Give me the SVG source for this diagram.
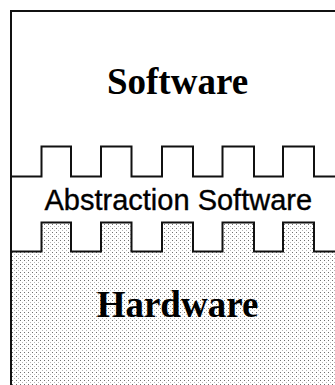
<svg xmlns="http://www.w3.org/2000/svg" width="335" height="385" viewBox="0 0 335 385">
  <defs>
    <pattern id="stipple" x="0" y="0" width="4" height="4" patternUnits="userSpaceOnUse">
      <rect x="0" y="0" width="1" height="1" fill="#707070"/>
      <rect x="2" y="2" width="1" height="1" fill="#b8b8b8"/>
    </pattern>
    <style>
      .edge { fill: none; stroke: #111; stroke-width: 2; stroke-linejoin: miter; }
      .serif { font-family: "Liberation Serif", "Times New Roman", serif; font-weight: bold; fill: #000; text-anchor: middle; }
      .sans { font-family: "Liberation Sans", Arial, sans-serif; fill: #000; stroke: #000; stroke-width: 0.35; text-anchor: middle; }
    </style>
  </defs>
  <rect x="0" y="0" width="335" height="385" fill="#fff"/>

  <g id="software">
    <path d="M11,11 H335 V176.5 H314 V146.5 H283 V176.5 H254 V146.5 H222.5 V176.5 H193 V146.5 H162 V176.5 H131.5 V146.5 H101 V176.5 H71 V146.5 H41.5 V176.5 H11 Z" fill="#fff"/>
    <text class="serif" x="177.5" y="94" font-size="37">Software</text>
  </g>

  <g id="abstraction">
    <text class="sans" x="178.3" y="210" font-size="29">Abstraction Software</text>
  </g>

  <g id="hardware">
    <path d="M11,251.5 H41.5 V222.5 H71 V251.5 H101 V222.5 H131.5 V251.5 H162 V222.5 H193 V251.5 H222.5 V222.5 H254 V251.5 H283 V222.5 H314 V251.5 H335 V385 H11 Z" fill="url(#stipple)"/>
    <text class="serif" x="177.5" y="316.5" font-size="37">Hardware</text>
  </g>

  <g id="connectors">
    <path class="edge" d="M10,11 H335"/>
    <path class="edge" d="M11,10 V385"/>
    <path class="edge" d="M11,176.5 H41.5 V146.5 H71 V176.5 H101 V146.5 H131.5 V176.5 H162 V146.5 H193 V176.5 H222.5 V146.5 H254 V176.5 H283 V146.5 H314 V176.5 H335"/>
    <path class="edge" d="M11,251.5 H41.5 V222.5 H71 V251.5 H101 V222.5 H131.5 V251.5 H162 V222.5 H193 V251.5 H222.5 V222.5 H254 V251.5 H283 V222.5 H314 V251.5 H335"/>
  </g>
</svg>
